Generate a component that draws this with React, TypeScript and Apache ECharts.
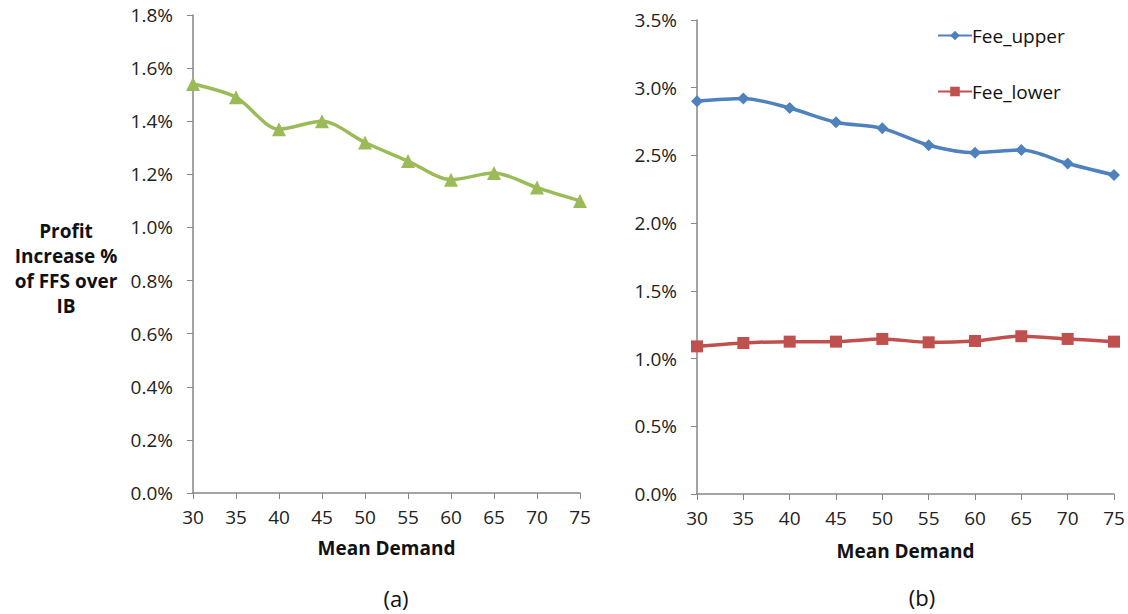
import React, { useEffect, useRef } from "react";
import * as echarts from "echarts";

const demand = ["30", "35", "40", "45", "50", "55", "60", "65", "70", "75"];
const profitIncrease = [1.54, 1.49, 1.37, 1.4, 1.32, 1.25, 1.18, 1.205, 1.15, 1.1];
const feeUpper = [2.9, 2.92, 2.85, 2.745, 2.7, 2.575, 2.52, 2.54, 2.44, 2.355];
const feeLower = [1.09, 1.115, 1.125, 1.125, 1.145, 1.12, 1.13, 1.165, 1.145, 1.125];

const FONT = "'Open Sans', 'Noto Sans', sans-serif";
const AXIS_GRAY = "#868686";

export default function App() {
  const ref = useRef<HTMLDivElement>(null);
  useEffect(() => {
    if (!ref.current) return;
    const chart = echarts.init(ref.current, null, { renderer: "svg" });
    const xAxisBase = (gridIndex: number, nameGap: number) => ({
      type: "category",
      gridIndex,
      data: demand,
      boundaryGap: false,
      axisLine: { lineStyle: { color: AXIS_GRAY, width: 1.5 } },
      axisTick: { show: true, length: 6, lineStyle: { color: AXIS_GRAY } },
      axisLabel: { color: "#222", fontSize: 19, fontFamily: FONT, margin: 14 },
      name: "Mean Demand",
      nameLocation: "middle",
      nameGap,
      nameTextStyle: { fontSize: 19, fontWeight: "bold", fontFamily: FONT, color: "#111" },
      splitLine: { show: false },
    });
    const yAxisBase = (gridIndex: number, max: number, interval: number, dec: number) => ({
      type: "value",
      gridIndex,
      min: 0,
      max,
      interval,
      axisLine: { show: true, lineStyle: { color: AXIS_GRAY, width: 1.5 } },
      axisTick: { show: true, length: 6, lineStyle: { color: AXIS_GRAY } },
      axisLabel: {
        color: "#222",
        fontSize: 19,
        fontFamily: FONT,
        margin: 20,
        formatter: (v: number) => v.toFixed(dec) + "%",
      },
      splitLine: { show: false },
    });
    chart.setOption({
      animation: false,
      backgroundColor: "#fff",
      grid: [
        { left: 193, top: 15, width: 387, height: 478 },
        { left: 697, top: 20, width: 417, height: 474 },
      ],
      xAxis: [xAxisBase(0, 45), xAxisBase(1, 47)],
      yAxis: [yAxisBase(0, 1.8, 0.2, 1), yAxisBase(1, 3.5, 0.5, 1)],
      legend: {
        orient: "vertical",
        left: 932,
        top: 21,
        itemGap: 37,
        itemWidth: 34,
        itemHeight: 12,
        data: ["Fee_upper", "Fee_lower"],
        textStyle: { fontSize: 19, fontFamily: FONT, color: "#111", padding: [0, 0, 0, -5] },
      },
      series: [
        {
          name: "Profit",
          type: "line",
          xAxisIndex: 0,
          yAxisIndex: 0,
          data: profitIncrease,
          smooth: 0.3,
          symbol: "triangle",
          symbolSize: 14,
          lineStyle: { color: "#9BBB59", width: 3.5 },
          itemStyle: { color: "#9BBB59" },
        },
        {
          name: "Fee_upper",
          type: "line",
          xAxisIndex: 1,
          yAxisIndex: 1,
          data: feeUpper,
          smooth: 0.3,
          symbol: "diamond",
          symbolSize: 12,
          lineStyle: { color: "#4F81BD", width: 3.5 },
          itemStyle: { color: "#4F81BD" },
        },
        {
          name: "Fee_lower",
          type: "line",
          xAxisIndex: 1,
          yAxisIndex: 1,
          data: feeLower,
          smooth: 0.3,
          symbol: "rect",
          symbolSize: 12,
          lineStyle: { color: "#C0504D", width: 3.5 },
          itemStyle: { color: "#C0504D" },
        },
      ],
      graphic: [
        {
          type: "text",
          x: 66,
          y: 268,
          style: {
            text: "Profit\nIncrease %\nof FFS over\nIB",
            align: "center",
            verticalAlign: "middle",
            fontSize: 19,
            fontWeight: "bold",
            fontFamily: FONT,
            lineHeight: 25,
            fill: "#111",
          },
        },
        {
          type: "text",
          x: 396,
          y: 598,
          style: {
            text: "(a)",
            align: "center",
            verticalAlign: "middle",
            fontSize: 22,
            fontFamily: FONT,
            fill: "#111",
          },
        },
        {
          type: "text",
          x: 922,
          y: 597,
          style: {
            text: "(b)",
            align: "center",
            verticalAlign: "middle",
            fontSize: 22,
            fontFamily: FONT,
            fill: "#111",
          },
        },
      ],
    });
    return () => chart.dispose();
  }, []);
  return (
    <div
      ref={ref}
      style={{ position: "fixed", left: 0, top: 0, width: 1128, height: 614 }}
    />
  );
}
